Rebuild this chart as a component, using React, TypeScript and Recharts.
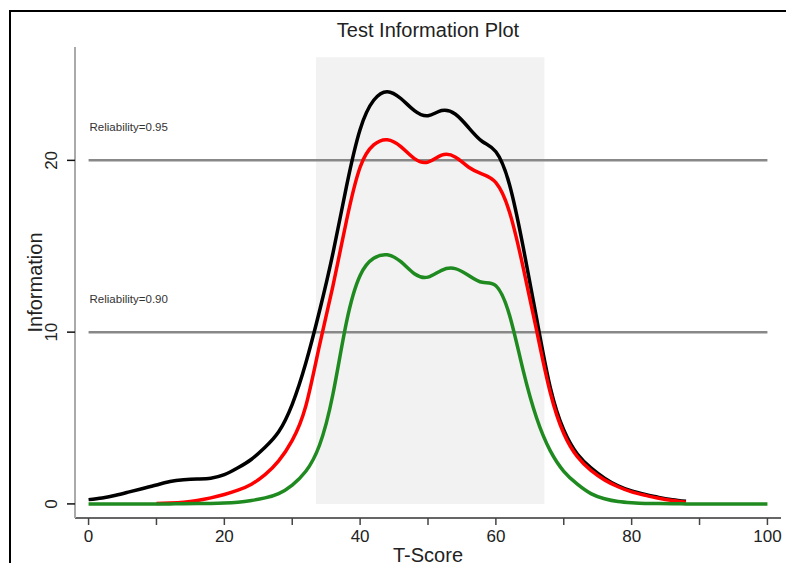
import {
  Line,
  LineChart,
  ReferenceArea,
  ReferenceLine,
  XAxis,
  YAxis,
  Label,
} from 'recharts'

const tScores = [
  0, 2, 4, 6, 8, 10, 12, 14, 16, 18, 20, 22, 24, 26, 28, 30, 32, 34, 36, 38, 40, 42, 44, 46, 48,
  50, 52, 54, 56, 58, 60, 62, 64, 66, 68, 70, 72, 74, 76, 78, 80, 82, 84, 86, 88, 90, 92, 94, 96,
  98, 100,
]

// total test information (black)
const totalInfo = [
  0.25, 0.35, 0.5, 0.7, 0.9, 1.1, 1.3, 1.4, 1.45, 1.5, 1.7, 2.1, 2.6, 3.3, 4.2, 5.8, 8.2, 11.2,
  14.6, 18.5, 21.8, 23.5, 24.0, 23.6, 22.9, 22.6, 22.9, 22.7, 21.9, 21.1, 20.5, 18.6, 15.0, 10.8,
  6.8, 4.3, 2.9, 2.1, 1.5, 1.05, 0.75, 0.55, 0.38, 0.25, 0.15, null, null, null, null, null, null,
]

// red curve
const redInfo = [
  null, null, null, null, null, 0.02, 0.05, 0.1, 0.2, 0.35, 0.55, 0.8, 1.15, 1.7, 2.5, 3.7, 5.7,
  9.2, 12.7, 16.5, 19.6, 20.9, 21.2, 20.8, 20.1, 19.9, 20.3, 20.2, 19.6, 19.2, 18.7, 17.0, 13.8,
  10.1, 6.5, 4.1, 2.75, 1.95, 1.4, 1.0, 0.7, 0.5, 0.33, 0.2, 0.1, null, null, null, null, null,
  null,
]

// green curve
const greenInfo = [
  0, 0, 0, 0, 0, 0, 0, 0.01, 0.02, 0.03, 0.05, 0.1, 0.2, 0.35, 0.6, 1.1, 1.9, 3.4, 6.4, 10.6,
  13.3, 14.3, 14.5, 14.1, 13.4, 13.2, 13.6, 13.7, 13.3, 12.9, 12.7, 11.0, 7.8, 5.0, 3.1, 1.9, 1.15,
  0.6, 0.3, 0.14, 0.07, 0.03, 0.02, 0.01, 0, 0, 0, 0, 0, 0, 0,
]

const xTicks = [0, 10, 20, 30, 40, 50, 60, 70, 80, 90, 100]
const yTicks = [0, 10, 20]
const reliabilityLines = [
  { value: 20, label: 'Reliability=0.95' },
  { value: 10, label: 'Reliability=0.90' },
]
const focusRange = [33.5, 67.15]

const data = tScores.map((t, i) => ({
  t,
  total: totalInfo[i],
  red: redInfo[i],
  green: greenInfo[i],
}))

const FONT = "'Liberation Sans', Arial, sans-serif"

function XTick(props: any) {
  const { x, y, payload } = props
  if (payload.value % 20 !== 0) return null
  return (
    <text x={x} y={y} dy={15} textAnchor="middle" fontSize={17} fontFamily={FONT} fill="#222">
      {payload.value}
    </text>
  )
}

function YTick(props: any) {
  const { x, y, payload } = props
  return (
    <text
      x={x}
      y={y}
      transform={`rotate(-90, ${x - 8}, ${y})`}
      dx={-8}
      textAnchor="middle"
      fontSize={17}
      fontFamily={FONT}
      fill="#222"
    >
      {payload.value}
    </text>
  )
}

function reliabilityLabel(text: string) {
  return (props: any) => {
    const { viewBox } = props
    return (
      <text
        x={viewBox.x + 1}
        y={viewBox.y - 29}
        fontSize={11.5}
        fontFamily={FONT}
        fill="#333"
      >
        {text}
      </text>
    )
  }
}

export default function App() {
  return (
    <div
      style={{
        position: 'relative',
        width: 778,
        height: 563,
        marginBottom: -8,
        overflow: 'hidden',
      }}
    >
      <div
        style={{
          position: 'absolute',
          left: 1,
          top: 2,
          width: 780,
          height: 600,
          border: '2px solid #000',
          boxSizing: 'border-box',
        }}
      />
      <LineChart
        width={778}
        height={563}
        data={data}
        margin={{ top: 39, right: 5, left: 7, bottom: 13 }}
        style={{ position: 'absolute', left: 0, top: 0 }}
      >
        <text
          x={420}
          y={29}
          textAnchor="middle"
          fontSize={20}
          fontFamily={FONT}
          fill="#222"
        >
          Test Information Plot
        </text>
        <ReferenceArea
          x1={focusRange[0]}
          x2={focusRange[1]}
          y1={0}
          y2={26}
          fill="#f2f2f2"
          fillOpacity={1}
          stroke="none"
          ifOverflow="visible"
        />
        <XAxis
          dataKey="t"
          type="number"
          domain={[-2, 102]}
          ticks={xTicks}
          interval={0}
          height={40}
          tickSize={7}
          tickLine={{ stroke: '#444', strokeWidth: 1.5 }}
          axisLine={{ stroke: '#333', strokeWidth: 1.5 }}
          tick={<XTick />}
        >
          <Label
            value="T-Score"
            position="insideBottom"
            offset={-4}
            fontSize={20}
            fontFamily={FONT}
            fill="#222"
          />
        </XAxis>
        <YAxis
          type="number"
          domain={[-0.82, 26.6]}
          ticks={yTicks}
          interval={0}
          width={60}
          tickSize={8}
          tickLine={{ stroke: '#111', strokeWidth: 1.5 }}
          axisLine={{ stroke: '#aaa', strokeWidth: 2 }}
          tick={<YTick />}
        >
          <Label
            value="Information"
            angle={-90}
            position="insideLeft"
            offset={20}
            fontSize={20}
            fontFamily={FONT}
            fill="#222"
            style={{ textAnchor: 'middle' }}
          />
        </YAxis>
        {reliabilityLines.map((r) => (
          <ReferenceLine
            key={r.value}
            segment={[
              { x: 0, y: r.value },
              { x: 100, y: r.value },
            ]}
            stroke="#888"
            strokeWidth={2.5}
            label={reliabilityLabel(r.label)}
          />
        ))}
        <Line
          type="natural"
          dataKey="total"
          stroke="#000"
          strokeWidth={3.5}
          dot={false}
          isAnimationActive={false}
        />
        <Line
          type="natural"
          dataKey="red"
          stroke="#ff0000"
          strokeWidth={3.5}
          dot={false}
          isAnimationActive={false}
        />
        <Line
          type="natural"
          dataKey="green"
          stroke="#1f8a1f"
          strokeWidth={3.5}
          dot={false}
          isAnimationActive={false}
        />
      </LineChart>
    </div>
  )
}
